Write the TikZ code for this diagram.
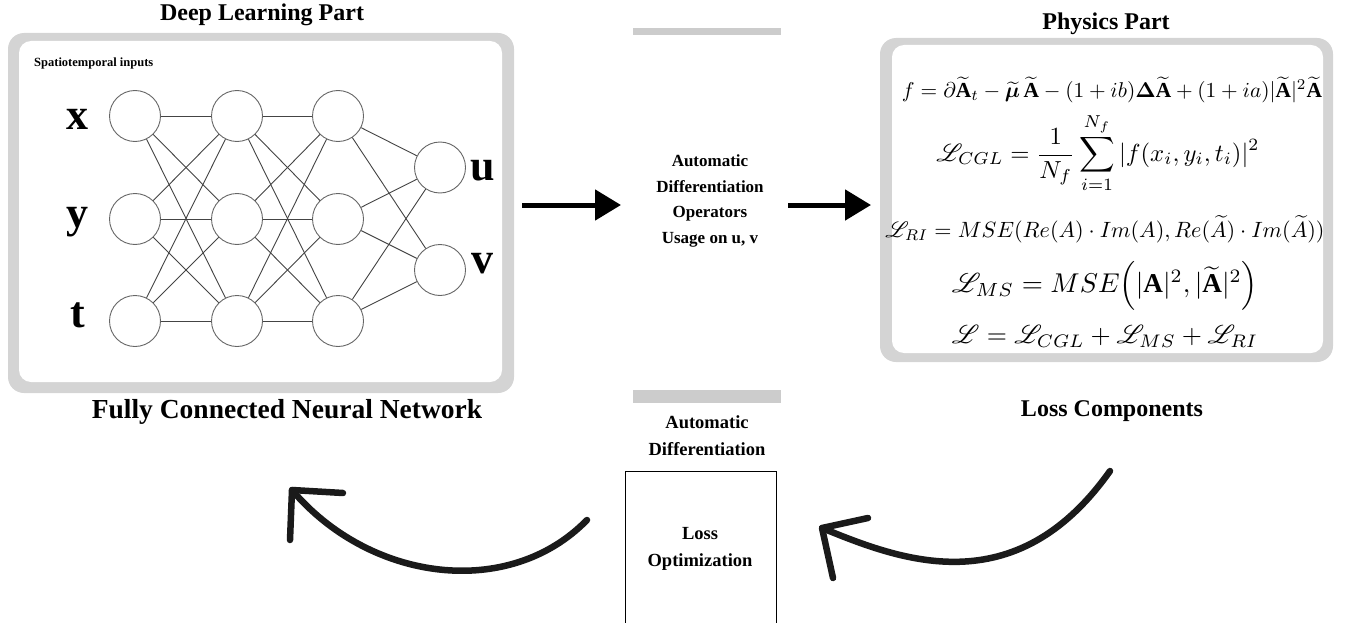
\documentclass[tikz,border=0pt]{standalone}
\usepackage{amsmath,amssymb,bm,mathrsfs,graphicx}
\usepackage{fontspec}
\setmainfont{Liberation Serif}
\usetikzlibrary{arrows.meta}

\definecolor{framegray}{HTML}{D4D4D4}
\definecolor{bargray}{HTML}{CCCCCC}
\definecolor{neurongray}{HTML}{666666}
\definecolor{wiregray}{HTML}{444444}
\definecolor{inkblack}{HTML}{1A1A1A}

\tikzset{
  frameout/.style={fill=framegray, draw=none, rounded corners=16pt, inner sep=0pt},
  framein/.style={fill=white, draw=none, rounded corners=12pt, inner sep=0pt},
  neuron/.style={circle, draw=neurongray, fill=white, line width=0.9pt, minimum size=51pt, inner sep=0pt},
  wire/.style={draw=wiregray, line width=0.9pt},
  heading/.style={font=\fontsize{24}{28}\selectfont\bfseries, inner sep=0pt},
  bigvar/.style={font=\fontsize{44}{48}\selectfont\bfseries, anchor=base, inner sep=0pt},
  midtext/.style={font=\fontsize{17}{25.5}\selectfont\bfseries, align=center, inner sep=0pt},
  lowtext/.style={font=\fontsize{18.5}{27}\selectfont\bfseries, align=center, inner sep=0pt},
  bar/.style={fill=bargray, draw=none, inner sep=0pt, minimum width=148pt},
  fatarrow/.style={draw=black, line width=5pt, -{Triangle[length=26pt,width=30pt]}},
  curvearrow/.style={draw=inkblack, line width=6.5pt, line cap=round, line join=round},
  eqn/.style={inner sep=0pt}
}

\begin{document}
\begin{tikzpicture}[x=1pt,y=-1pt]
\useasboundingbox (0,0) rectangle (1351,623);

% ---------- deep learning part ----------
\node[heading] (dltitle) at (262,15) {Deep Learning Part};
\node[frameout, minimum width=506pt, minimum height=360pt] (dlout) at (261,213) {};
\node[framein, minimum width=483pt, minimum height=341pt] (dlin) at (260.5,211.5) {};
\node[font=\fontsize{12.5}{14}\selectfont\bfseries, anchor=west, inner sep=0pt] (spt) at (34,63) {Spatiotemporal inputs};

% neurons: layers 1-3 and the output layer
\foreach \c/\xx in {1/135,2/237,3/338}{
  \node[neuron] (n\c1) at (\xx,116) {};
  \node[neuron] (n\c2) at (\xx,219) {};
  \node[neuron] (n\c3) at (\xx,321) {};
}
\node[neuron] (o1) at (440,167.5) {};
\node[neuron] (o2) at (440,270) {};

% fully connected wiring
\foreach \a in {1,2,3}{
  \foreach \b in {1,2,3}{
    \draw[wire] (n1\a) -- (n2\b);
    \draw[wire] (n2\a) -- (n3\b);
  }
  \draw[wire] (n3\a) -- (o1);
  \draw[wire] (n3\a) -- (o2);
}

\node[bigvar] (lx) at (77,130) {x};
\node[bigvar] (ly) at (77,227) {y};
\node[bigvar] (lt) at (78,327) {t};
\node[bigvar] (lu) at (483,180) {u};
\node[bigvar] (lv) at (482,273) {v};

\node[font=\fontsize{27.5}{32}\selectfont\bfseries, inner sep=0pt] (fcnn) at (287,412) {Fully Connected Neural Network};

% ---------- middle column ----------
\node[bar, minimum height=7pt] (topbar) at (707,31.5) {};
\node[midtext] (adops) at (710,201) {Automatic\\Differentiation\\Operators\\Usage on u, v};

\coordinate (a1s) at (522,205);
\coordinate (a1e) at (621,205);
\coordinate (a2s) at (788,205);
\coordinate (a2e) at (871,205);
\draw[fatarrow] (a1s) -- (a1e);
\draw[fatarrow] (a2s) -- (a2e);

\node[bar, minimum height=13pt] (lowbar) at (707,396) {};
\node[lowtext] (adlow) at (707,436) {Automatic\\Differentiation};
\node[draw=black, line width=0.8pt, minimum width=151pt, minimum height=162pt, inner sep=0pt] (lossbox) at (700.5,552) {};
\node[lowtext] (losstext) at (700,549) {Loss\\Optimization};

% ---------- physics part ----------
\node[heading] (phtitle) at (1106,24) {Physics Part};
\node[frameout, minimum width=453pt, minimum height=324pt] (phout) at (1106.5,200) {};
\node[framein, minimum width=431pt, minimum height=308pt] (phin) at (1107.5,199) {};

\node[eqn] (eqf) at (1112,90) {\resizebox{420pt}{!}{$f=\partial\widetilde{\mathbf{A}}_t-\widetilde{\bm{\mu}}\,\widetilde{\mathbf{A}}-(1+ib)\bm{\Delta}\widetilde{\mathbf{A}}+(1+ia)|\widetilde{\mathbf{A}}|^2\widetilde{\mathbf{A}}$}};
\node[eqn] (eqcgl) at (1098,153) {\resizebox{323pt}{!}{$\displaystyle \mathscr{L}_{CGL}=\frac{1}{N_f}\sum_{i=1}^{N_f}|f(x_i,y_i,t_i)|^2$}};
\node[eqn] (eqri) at (1105,229) {\resizebox{439pt}{!}{$\mathscr{L}_{RI}=MSE(Re(A)\cdot Im(A),Re(\widetilde{A})\cdot Im(\widetilde{A}))$}};
\node[eqn] (eqms) at (1105,286) {\resizebox{306pt}{!}{$\mathscr{L}_{MS}=MSE\Big(|\mathbf{A}|^2,|\widetilde{\mathbf{A}}|^2\Big)$}};
\node[eqn] (eqall) at (1105,336) {\resizebox{306pt}{!}{$\mathscr{L}=\mathscr{L}_{CGL}+\mathscr{L}_{MS}+\mathscr{L}_{RI}$}};

\node[heading] (losscomp) at (1112,411) {Loss Components};

% ---------- curved feedback arrows ----------
\coordinate (c1s) at (587,520);
\coordinate (c1t) at (292,490);
\coordinate (c1a) at (343,493);
\coordinate (c1b) at (290,540);
\draw[curvearrow] (c1s) .. controls (509,600) and (370,582) .. (c1t);
\draw[curvearrow] (c1a) -- (c1t) -- (c1b);

\coordinate (c2s) at (1110,471);
\coordinate (c2t) at (822,528);
\coordinate (c2a) at (868,518);
\coordinate (c2b) at (833,578);
\draw[curvearrow] (c2s) .. controls (1015,605) and (900,560) .. (c2t);
\draw[curvearrow] (c2a) -- (c2t) -- (c2b);
\end{tikzpicture}
\end{document}
